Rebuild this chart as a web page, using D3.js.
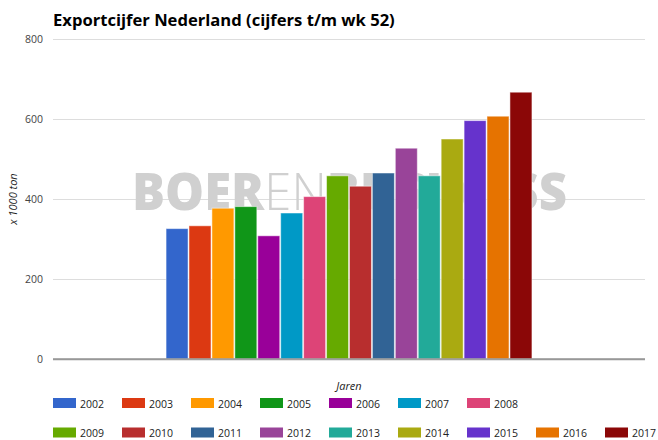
<!DOCTYPE html>
<html>
<head>
<meta charset="utf-8">
<script src="https://cdn.jsdelivr.net/npm/d3@7"></script>
<style>
  body { margin: 0; background: #fff; }
  svg text { font-family: "Open Sans", "DejaVu Sans", sans-serif; }
</style>
</head>
<body>
<div id="container"></div>
<script>
//Data
const years = ['2002', '2003', '2004', '2005', '2006', '2007', '2008', '2009',
    '2010', '2011', '2012', '2013', '2014', '2015', '2016', '2017'];
const exportValues = [326, 333, 377, 381, 308, 365, 406, 458,
    432, 465, 527, 458, 550, 596, 607, 667];
const yTicks = [0, 200, 400, 600, 800];
const colors = ['#3366cc', '#dc3912', '#ff9900', '#109618', '#990099', '#0099c6', '#dd4477', '#66aa00',
    '#b82e2e', '#316395', '#994499', '#22aa99', '#aaaa11', '#6633cc', '#e67300', '#8b0707'];

const width = 658;
const height = 440;

//Plot area
const plot = { left: 53, right: 645, top: 39, bottom: 359 };

const svg = d3.select('#container').append('svg')
    .attr('width', width)
    .attr('height', height);

//Title
svg.append('text')
    .attr('x', 53)
    .attr('y', 26)
    .attr('font-size', 16.6)
    .attr('font-weight', 'bold')
    .attr('fill', '#000')
    .text('Exportcijfer Nederland (cijfers t/m wk 52)');

//Scales
const yScale = d3.scaleLinear()
    .domain([0, 800])
    .range([plot.bottom, plot.top]);

const groupScale = d3.scaleBand()
    .domain(['all'])
    .range([plot.left, plot.right])
    .paddingInner(0)
    .paddingOuter(0.309);

const xScale = d3.scaleBand()
    .domain(years)
    .range([groupScale('all'), groupScale('all') + groupScale.bandwidth()])
    .paddingInner(0.04);

//Grid lines + y labels
const yAxis = svg.append('g')
    .attr('transform', 'translate(' + plot.left + ',0)')
    .call(d3.axisLeft(yScale).tickValues(yTicks).tickSize(-(plot.right - plot.left)).tickPadding(10));
yAxis.select('.domain').remove();
yAxis.selectAll('.tick line')
    .attr('stroke', d => d === 0 ? '#999' : '#ddd')
    .attr('stroke-width', d => d === 0 ? 1.5 : 1);
yAxis.selectAll('.tick text')
    .attr('font-size', 10.5)
    .attr('fill', '#444')
    .attr('font-family', '"Open Sans", sans-serif');

//Watermark behind bars
const mark = svg.append('text')
    .attr('x', 132)
    .attr('y', 210)
    .attr('font-size', 52)
    .attr('fill', '#d0d0d0')
    .attr('textLength', 435)
    .attr('lengthAdjust', 'spacingAndGlyphs');
mark.append('tspan').attr('font-weight', 900).text('BOER');
mark.append('tspan').attr('font-weight', 300).text('EN');
mark.append('tspan').attr('font-weight', 900).text('BUSINESS');

//Bars
svg.selectAll('rect.bar')
    .data(years)
    .enter()
    .append('rect')
    .attr('class', 'bar')
    .attr('x', d => xScale(d))
    .attr('y', (d, i) => yScale(exportValues[i]))
    .attr('width', xScale.bandwidth())
    .attr('height', (d, i) => plot.bottom - yScale(exportValues[i]))
    .attr('fill', (d, i) => colors[i])
    .attr('stroke', '#fff')
    .attr('stroke-opacity', 0.5)
    .attr('stroke-width', 1);

//Baseline on top
svg.append('line')
    .attr('x1', plot.left)
    .attr('x2', plot.right)
    .attr('y1', yScale(0))
    .attr('y2', yScale(0))
    .attr('stroke', '#999')
    .attr('stroke-width', 1.5);

//Axis titles
svg.append('text')
    .attr('x', (plot.left + plot.right) / 2)
    .attr('y', 390)
    .attr('text-anchor', 'middle')
    .attr('font-size', 11)
    .attr('font-style', 'italic')
    .attr('fill', '#222')
    .text('Jaren');

svg.append('text')
    .attr('transform', 'translate(17,' + (plot.top + plot.bottom) / 2 + ') rotate(-90)')
    .attr('text-anchor', 'middle')
    .attr('font-size', 11)
    .attr('font-style', 'italic')
    .attr('fill', '#222')
    .text('x 1000 ton');

//Legend, two rows
const perRow = 7;
const legend = svg.selectAll('g.legend')
    .data(years)
    .enter()
    .append('g')
    .attr('class', 'legend')
    .attr('transform', (d, i) => {
        const row = i < perRow ? 0 : 1;
        const col = i < perRow ? i : i - perRow;
        return 'translate(' + (53 + col * 69) + ',' + (398 + row * 29.5) + ')';
    });

legend.append('rect')
    .attr('width', 23)
    .attr('height', 10)
    .attr('fill', (d, i) => colors[i]);

legend.append('text')
    .attr('x', 27)
    .attr('y', 9.5)
    .attr('font-size', 10.5)
    .attr('fill', '#222')
    .text(d => d);
</script>
</body>
</html>
